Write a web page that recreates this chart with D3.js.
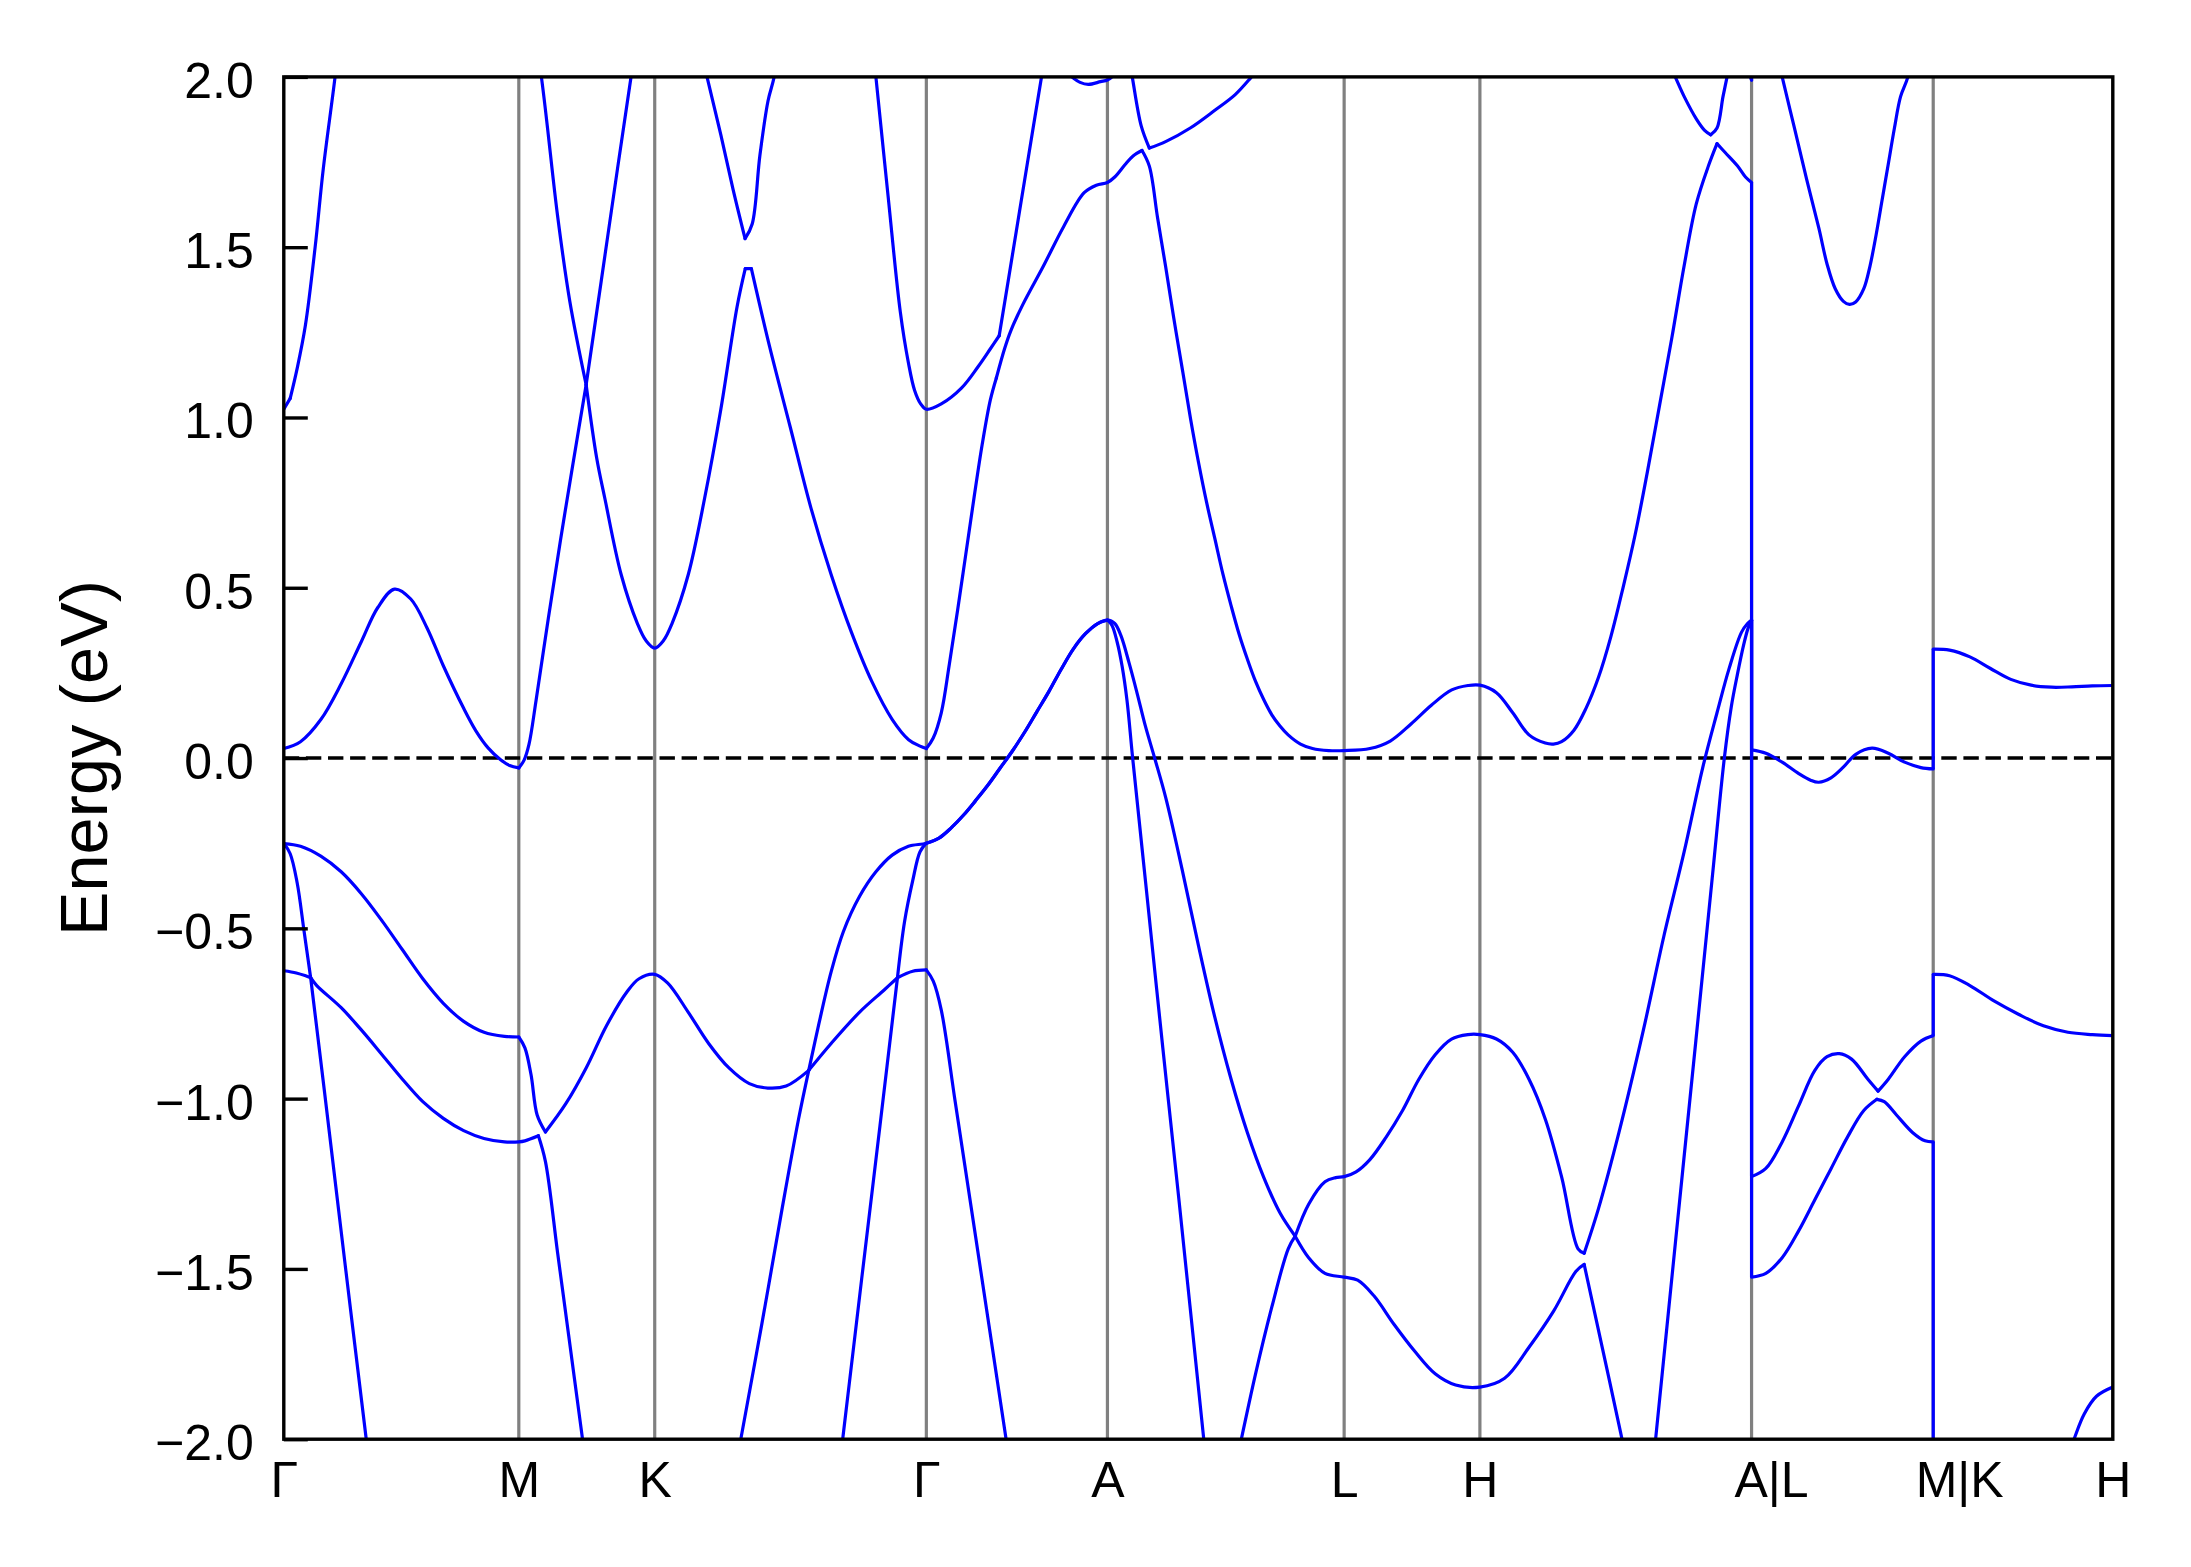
<!DOCTYPE html>
<html>
<head>
<meta charset="utf-8">
<script src="https://cdn.jsdelivr.net/npm/d3@7"></script>
<style>
  html, body { margin: 0; padding: 0; background: #ffffff; }
  svg { display: block; }
</style>
</head>
<body>
<svg id="chart" width="2191" height="1567"></svg>
<script>
// ---------------- DATA ----------------
// High-symmetry points along the k-path (k in units of 2π/a)
const kLabels    = ["Γ", "M", "K", "Γ", "A", "L", "H", "A|L", "M|K", "H"];
const kPositions = [0, 0.5775, 0.9115, 1.579, 2.024, 2.6057, 2.9393, 3.6069, 4.0533, 4.4946];
const energyTicks = [-2.0, -1.5, -1.0, -0.5, 0.0, 0.5, 1.0, 1.5, 2.0];
const energyRange = [-2, 2];
const fermiLevel = 0;

// Γ–A segment is doubly degenerate (shared by the two top valence bands)
const gammaAValence = [[1.61,-0.235],[1.64,-0.205],[1.67,-0.168],[1.70,-0.125],[1.73,-0.08],[1.76,-0.03],[1.79,0.02],[1.82,0.075],[1.85,0.135],[1.88,0.195],[1.91,0.26],[1.94,0.32],[1.97,0.365],[2.00,0.395],[2.024,0.405]];

// Bands: [k, E (eV)]; a repeated k marks the jump at a path break (A|L, M|K)
const bandC2 = [
[0,1.024],[0.0157,1.056],[0.033,1.145],[0.053,1.27],[0.077,1.50],[0.097,1.73],[0.126,2.0],[0.15,2.25],
[0.5775,2.45],[0.633,2.0],[0.673,1.59],[0.703,1.34],[0.743,1.096],[0.78,1.40],[0.82,1.73],[0.8533,2.0],[0.88,2.22],
[0.9115,2.4],[1.02,2.11],[1.04,2.0],[1.074,1.83],[1.104,1.67],[1.1336,1.525],[1.151,1.568],[1.17,1.77],[1.19,1.93],[1.205,2.0],[1.22,2.12],
[1.30,2.5],[1.44,2.17],[1.455,2.0],[1.485,1.65],[1.515,1.31],[1.535,1.16],[1.55,1.08],[1.565,1.04],[1.579,1.024],
[1.6157,1.04],[1.6658,1.087],[1.706,1.149],[1.736,1.201],[1.758,1.24],[1.78,1.40],[1.81,1.62],[1.84,1.84],[1.862,2.0],[1.88,2.13],
[1.91,2.1],[1.925,2.01],[1.9366,2.0],[1.9567,1.984],[1.9768,1.978],[2.007,1.986],[2.024,1.991],
[2.035,2.0],[2.055,2.05],[2.075,2.07],[2.085,2.0],[2.107,1.856],[2.127,1.791],[2.167,1.81],[2.2276,1.85],[2.288,1.902],[2.338,1.948],[2.378,2.0],[2.42,2.06],
[2.6057,2.3],[2.9393,2.5],[3.38,2.15],[3.40,2.05],[3.4193,2.0],[3.4414,1.942],[3.4714,1.876],[3.4915,1.843],[3.5066,1.83],[3.522,1.85],[3.5367,1.942],[3.5467,2.0],[3.56,2.08],[3.585,2.05],[3.6069,1.99],
[3.6069,2.5],[3.66,2.11],[3.6821,2.0],[3.7122,1.85],[3.7423,1.699],[3.7724,1.555],[3.7925,1.45],[3.8125,1.378],[3.8326,1.341],[3.8476,1.332],[3.8627,1.339],[3.8827,1.378],[3.8978,1.444],[3.9128,1.535],[3.9279,1.64],[3.943,1.745],[3.958,1.85],[3.973,1.942],[3.9911,2.0],[4.01,2.12],
[4.0533,2.5],[4.0533,2.6],[4.4946,2.6]
];

const bandC1 = [
[0,0.028],[0.041,0.048],[0.091,0.113],[0.141,0.218],[0.191,0.343],[0.231,0.442],[0.272,0.496],[0.312,0.467],[0.352,0.382],[0.392,0.271],[0.442,0.146],[0.472,0.08],[0.502,0.03],[0.532,-0.004],[0.555,-0.022],[0.5775,-0.029],
[0.5905,-0.006],[0.6025,0.04],[0.62,0.17],[0.65,0.41],[0.68,0.64],[0.71,0.86],[0.743,1.096],[0.769,0.88],[0.789,0.762],[0.829,0.539],[0.869,0.395],[0.89,0.345],[0.9115,0.323],
[0.933,0.345],[0.954,0.395],[0.994,0.539],[1.034,0.762],[1.074,1.024],[1.114,1.326],[1.134,1.437],[1.149,1.437],[1.194,1.207],[1.2445,0.972],[1.295,0.736],[1.345,0.539],[1.395,0.369],[1.445,0.225],[1.4953,0.113],[1.5354,0.054],[1.5635,0.035],[1.579,0.028],
[1.5956,0.058],[1.6157,0.133],[1.6357,0.277],[1.6558,0.434],[1.6759,0.598],[1.6959,0.762],[1.716,0.919],[1.736,1.05],[1.751,1.116],[1.771,1.201],[1.786,1.253],[1.8163,1.332],[1.8664,1.444],[1.9166,1.561],[1.9668,1.66],[1.9968,1.682],[2.024,1.69],
[2.042,1.706],[2.067,1.742],[2.087,1.768],[2.109,1.784],[2.127,1.738],[2.147,1.588],[2.167,1.443],[2.187,1.292],[2.208,1.142],[2.228,0.998],[2.248,0.867],[2.268,0.749],[2.288,0.644],[2.308,0.539],[2.328,0.447],[2.348,0.362],[2.368,0.29],[2.388,0.225],[2.408,0.172],[2.428,0.127],[2.448,0.094],[2.468,0.068],[2.4985,0.041],[2.528,0.028],[2.568,0.022],[2.6057,0.022],
[2.669,0.028],[2.719,0.05],[2.77,0.10],[2.82,0.155],[2.87,0.20],[2.91,0.213],[2.9393,0.214],
[2.98,0.192],[3.02,0.133],[3.06,0.068],[3.10,0.044],[3.12,0.041],[3.14,0.048],[3.17,0.081],[3.20,0.146],[3.231,0.238],[3.261,0.356],[3.291,0.5],[3.321,0.657],[3.351,0.841],[3.381,1.037],[3.411,1.234],[3.441,1.444],[3.471,1.627],[3.501,1.739],[3.522,1.804],[3.542,1.778],[3.572,1.739],[3.592,1.706],[3.6069,1.69],
[3.6069,0.024],[3.642,0.014],[3.682,-0.012],[3.722,-0.045],[3.752,-0.065],[3.772,-0.071],[3.802,-0.058],[3.833,-0.026],[3.863,0.011],[3.903,0.029],[3.943,0.014],[3.983,-0.012],[4.023,-0.028],[4.0533,-0.032],
[4.0533,0.32],[4.0934,0.317],[4.1435,0.297],[4.194,0.263],[4.244,0.231],[4.294,0.214],[4.344,0.208],[4.394,0.209],[4.444,0.212],[4.4946,0.213]
];

const bandV1 = [
[0,-0.251],[0.041,-0.259],[0.091,-0.288],[0.141,-0.334],[0.191,-0.399],[0.2415,-0.478],[0.2915,-0.563],[0.3416,-0.648],[0.392,-0.72],[0.442,-0.773],[0.492,-0.805],[0.5423,-0.817],[0.5775,-0.819],
[0.5925,-0.851],[0.6076,-0.93],[0.6226,-1.048],[0.643,-1.098],[0.693,-1.015],[0.743,-0.91],[0.793,-0.786],[0.843,-0.687],[0.873,-0.648],[0.9115,-0.635],
[0.9436,-0.661],[0.9937,-0.746],[1.044,-0.838],[1.094,-0.91],[1.144,-0.956],[1.1894,-0.969],[1.2345,-0.963],[1.29,-0.917],[1.315,-0.78],[1.345,-0.628],[1.375,-0.51],[1.415,-0.406],[1.455,-0.334],[1.495,-0.285],[1.535,-0.259],[1.579,-0.25],
...gammaAValence,
[2.042,0.395],[2.057,0.36],[2.077,0.28],[2.097,0.19],[2.117,0.095],[2.14,0.0],[2.1674,-0.117],[2.2075,-0.327],[2.2476,-0.55],[2.2877,-0.76],[2.3279,-0.943],[2.368,-1.1],[2.4081,-1.231],[2.4482,-1.336],[2.4854,-1.404],[2.5185,-1.31],[2.5586,-1.244],[2.585,-1.232],[2.6057,-1.229],
[2.635,-1.215],[2.669,-1.179],[2.709,-1.113],[2.7492,-1.035],[2.7893,-0.943],[2.8294,-0.871],[2.8695,-0.825],[2.9097,-0.812],[2.9393,-0.812],
[2.98,-0.825],[3.02,-0.864],[3.06,-0.943],[3.1003,-1.061],[3.1404,-1.231],[3.1805,-1.441],[3.1956,-1.454],[3.2307,-1.323],[3.2809,-1.10],[3.341,-0.799],[3.3912,-0.524],[3.4413,-0.275],[3.4865,-0.03],[3.522,0.133],[3.552,0.264],[3.582,0.369],[3.597,0.395],[3.6069,0.405],
[3.6069,-1.229],[3.642,-1.205],[3.6821,-1.127],[3.7222,-1.022],[3.7624,-0.917],[3.7924,-0.877],[3.8225,-0.868],[3.8526,-0.884],[3.8928,-0.943],[3.9178,-0.978],[3.9429,-0.943],[3.983,-0.877],[4.0231,-0.831],[4.0533,-0.815],
[4.0533,-0.635],[4.0934,-0.639],[4.1435,-0.668],[4.2037,-0.714],[4.2639,-0.753],[4.3241,-0.786],[4.3843,-0.805],[4.4444,-0.812],[4.4946,-0.815]
];

const bandV2 = [
[0,-0.25],[0.0157,-0.281],[0.0328,-0.366],[0.05,-0.51],[0.066,-0.645],[0.081,-0.668],[0.141,-0.733],[0.191,-0.799],[0.2415,-0.871],[0.2915,-0.943],[0.3416,-1.009],[0.392,-1.058],[0.442,-1.094],[0.492,-1.117],[0.5423,-1.127],[0.5775,-1.127],
[0.5925,-1.124],[0.6256,-1.109],[0.643,-1.185],[0.673,-1.454],[0.70,-1.695],[0.733,-1.99],[0.75,-2.14],
[0.9115,-2.6],[1.10,-2.15],[1.123,-2.0],[1.175,-1.66],[1.225,-1.32],[1.265,-1.06],[1.29,-0.917],[1.345,-0.838],[1.415,-0.746],[1.4753,-0.681],[1.508,-0.645],[1.5255,-0.48],[1.5455,-0.36],[1.5635,-0.275],[1.579,-0.25],
...gammaAValence,
[2.035,0.39],[2.048,0.34],[2.06,0.27],[2.072,0.17],[2.086,0.0],[2.12,-0.39],[2.16,-0.85],[2.20,-1.30],[2.2607,-2.0],[2.28,-2.22],
[2.31,-2.4],[2.335,-2.1],[2.353,-2.0],[2.388,-1.808],[2.4282,-1.611],[2.4683,-1.441],[2.4854,-1.404],[2.5185,-1.467],[2.5586,-1.513],[2.6057,-1.524],
[2.639,-1.533],[2.6789,-1.579],[2.729,-1.664],[2.7792,-1.742],[2.8294,-1.808],[2.8796,-1.841],[2.9393,-1.847],
[3.0,-1.821],[3.06,-1.73],[3.1204,-1.624],[3.1755,-1.507],[3.1956,-1.487],[3.2407,-1.735],[3.2859,-1.985],[3.30,-2.07],
[3.33,-2.5],[3.355,-2.19],[3.3711,-2.0],[3.42,-1.42],[3.47,-0.83],[3.51,-0.355],[3.54,0.0],[3.557,0.15],[3.572,0.245],[3.587,0.33],[3.598,0.38],[3.6069,0.405],
[3.6069,-1.524],[3.642,-1.513],[3.6821,-1.467],[3.7222,-1.389],[3.7624,-1.297],[3.8025,-1.205],[3.8426,-1.113],[3.8827,-1.035],[3.9149,-1.002],[3.9329,-1.009],[3.963,-1.048],[4.0031,-1.10],[4.0332,-1.124],[4.0533,-1.127],
[4.0533,-2.5],[4.37,-2.1],[4.3993,-2.0],[4.4244,-1.926],[4.4545,-1.874],[4.4946,-1.847]
];

const bandV3 = [
[0,-0.6245],[0.0308,-0.631],[0.055,-0.64],[0.066,-0.645],[0.1,-0.98],[0.15,-1.48],[0.2026,-2.0],[0.22,-2.17],
[0.5775,-3.0],[0.9115,-3.0],[1.35,-2.23],[1.3734,-2.0],[1.42,-1.53],[1.465,-1.08],[1.508,-0.645],[1.5454,-0.626],[1.579,-0.622],
[1.596,-0.655],[1.6157,-0.74],[1.65,-1.01],[1.70,-1.405],[1.775,-2.0],[1.80,-2.2],[2.024,-3.0]
];

// k-values where a band has a sharp kink (band touching / crossing points)
const kinksC2 = [0.0157, 0.743, 1.1336, 1.758, 2.127, 3.5066];
const kinksC1 = [0.5775, 0.743, 1.134, 1.149, 1.579, 1.751, 2.109, 3.522];
const kinksV1 = [0.5775, 0.643, 1.29, 2.4854, 3.1956, 3.9178];
const kinksV2 = [0.066, 0.6256, 1.29, 1.508, 1.579, 2.024, 2.4854, 3.1956, 3.9149];
const kinksV3 = [0.066, 1.508, 1.579];

const bands = [bandC2, bandC1, bandV1, bandV2, bandV3];
const bandKinks = [kinksC2, kinksC1, kinksV1, kinksV2, kinksV3];

// ---------------- LAYOUT ----------------
const svg = d3.select("#chart");
const plot = { left: 283.8, right: 2112.8, top: 76.9, bottom: 1439.2 };
const FONT = "'Liberation Sans', Arial, Helvetica, sans-serif";

const x = d3.scaleLinear()
  .domain([kPositions[0], kPositions[kPositions.length - 1]])
  .range([plot.left, plot.right]);
const y = d3.scaleLinear().domain(energyRange).range([plot.bottom, plot.top]);

svg.append("rect").attr("width", 2191).attr("height", 1567).attr("fill", "#ffffff");

svg.append("defs").append("clipPath").attr("id", "plotClip")
  .append("rect")
  .attr("x", plot.left).attr("y", plot.top)
  .attr("width", plot.right - plot.left).attr("height", plot.bottom - plot.top);

// vertical high-symmetry lines
svg.append("g").selectAll("line")
  .data(kPositions.slice(1, -1))
  .join("line")
  .attr("x1", d => x(d)).attr("x2", d => x(d))
  .attr("y1", y(energyRange[0])).attr("y2", y(energyRange[1]))
  .attr("stroke", "#808080").attr("stroke-width", 3.2);

// Fermi level
svg.append("line")
  .attr("x1", plot.left).attr("x2", plot.right)
  .attr("y1", y(fermiLevel)).attr("y2", y(fermiLevel))
  .attr("stroke", "#000000").attr("stroke-width", 3.6)
  .attr("stroke-dasharray", "15.4,6.7");

// split a band into smooth pieces: break at path jumps (repeated k) and at kinks
function splitBand(band, kinks) {
  const isKink = k => kinks.some(v => Math.abs(v - k) < 1e-6);
  const pieces = [], jumps = [];
  let cur = [band[0]];
  for (let i = 1; i < band.length; i++) {
    if (band[i][0] === band[i - 1][0]) {
      pieces.push(cur);
      jumps.push([band[i - 1], band[i]]);
      cur = [band[i]];
    } else {
      cur.push(band[i]);
      const nextIsJump = i + 1 < band.length && band[i + 1][0] === band[i][0];
      if (i < band.length - 1 && !nextIsJump && isKink(band[i][0])) {
        pieces.push(cur);
        cur = [band[i]];
      }
    }
  }
  pieces.push(cur);
  return { pieces, jumps };
}

const smooth = d3.line().x(d => x(d[0])).y(d => y(d[1])).curve(d3.curveCatmullRom.alpha(0.5));
const straight = d3.line().x(d => x(d[0])).y(d => y(d[1]));

const gBands = svg.append("g").attr("clip-path", "url(#plotClip)");
bands.forEach((band, bi) => {
  const { pieces, jumps } = splitBand(band, bandKinks[bi]);
  gBands.append("g").selectAll("path.piece")
    .data(pieces).join("path").attr("class", "piece")
    .attr("d", smooth)
    .attr("fill", "none").attr("stroke", "#0000ff").attr("stroke-width", 3.2)
    .attr("stroke-linejoin", "round").attr("stroke-linecap", "round");
  gBands.append("g").selectAll("path.jump")
    .data(jumps).join("path").attr("class", "jump")
    .attr("d", straight)
    .attr("fill", "none").attr("stroke", "#0000ff").attr("stroke-width", 3.2);
});

// y axis (ticks inside)
const yAxis = d3.axisLeft(y)
  .tickValues(energyTicks)
  .tickFormat(d3.format(".1f"))
  .tickSizeInner(-24)
  .tickSizeOuter(0)
  .tickPadding(30);
const gy = svg.append("g").attr("transform", `translate(${plot.left},0)`).call(yAxis);
gy.select(".domain").remove();
gy.selectAll(".tick line").attr("stroke", "#000").attr("stroke-width", 3.4);
gy.selectAll(".tick text")
  .attr("font-family", FONT).attr("font-size", 50).attr("fill", "#000")
  .attr("dy", "0.41em");

// x axis labels
const labelShift = { "A|L": 19.5, "M|K": 26 };
const xAxis = d3.axisBottom(x)
  .tickValues(kPositions)
  .tickFormat((d, i) => kLabels[i])
  .tickSize(0)
  .tickPadding(22.3);
const gx = svg.append("g").attr("transform", `translate(0,${plot.bottom})`).call(xAxis);
gx.select(".domain").remove();
gx.selectAll(".tick text")
  .attr("font-family", FONT).attr("font-size", 50).attr("fill", "#000")
  .attr("dx", (d, i) => labelShift[kLabels[i]] || 0);

// frame
svg.append("rect")
  .attr("x", plot.left).attr("y", plot.top)
  .attr("width", plot.right - plot.left).attr("height", plot.bottom - plot.top)
  .attr("fill", "none").attr("stroke", "#000").attr("stroke-width", 3.4);

// y label
svg.append("text")
  .attr("transform", `translate(107,${(plot.top + plot.bottom) / 2}) rotate(-90)`)
  .attr("text-anchor", "middle")
  .attr("font-family", FONT).attr("font-size", 66.7).attr("fill", "#000")
  .text("Energy (eV)");
</script>
</body>
</html>
